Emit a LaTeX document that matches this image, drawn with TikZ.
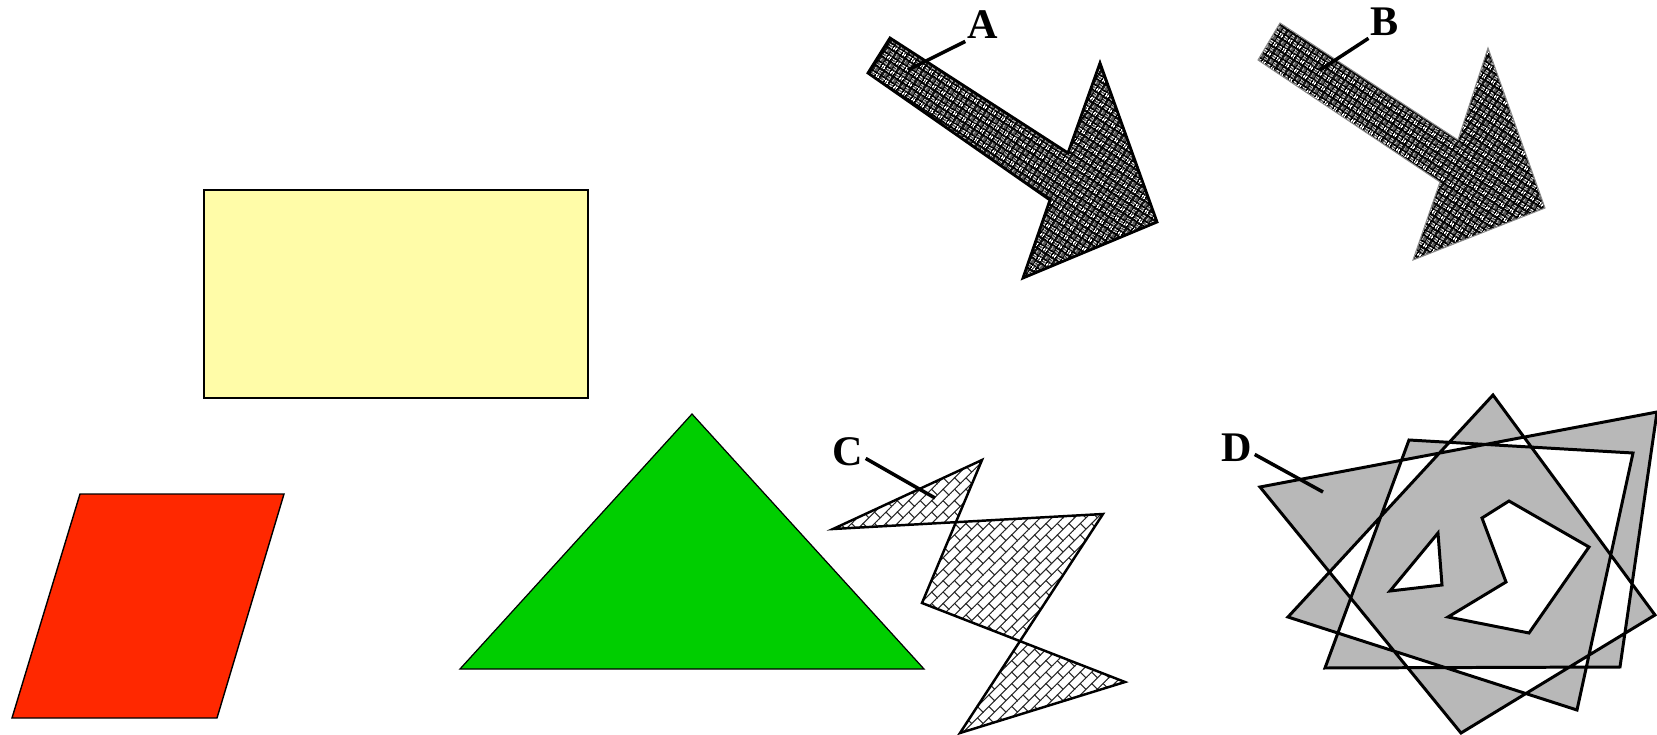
\documentclass[tikz,border=0pt]{standalone}
\usepackage{fontspec}
\setmainfont{Liberation Serif}
\usepackage{xcolor}
\usetikzlibrary{patterns, patterns.meta}

\definecolor{rectYellow}{RGB}{255,252,168}
\definecolor{paraRed}{RGB}{255,40,0}
\definecolor{triGreen}{RGB}{0,206,0}

\pgfdeclarepattern{
    name=weaveFill,
    bottom left={\pgfpoint{0pt}{0pt}},
    top right={\pgfpoint{3pt}{3pt}},
    tile size={\pgfpoint{3pt}{3pt}},
    tile transformation={\pgftransformrotate{-33}},
    code={
        \pgfsetlinewidth{0.3pt}
        \pgfpathmoveto{\pgfpoint{0.2pt}{0.45pt}}\pgfpathlineto{\pgfpoint{1.3pt}{0.45pt}}
        \pgfpathmoveto{\pgfpoint{0.2pt}{1.05pt}}\pgfpathlineto{\pgfpoint{1.3pt}{1.05pt}}
        \pgfpathmoveto{\pgfpoint{1.95pt}{0.2pt}}\pgfpathlineto{\pgfpoint{1.95pt}{1.3pt}}
        \pgfpathmoveto{\pgfpoint{2.55pt}{0.2pt}}\pgfpathlineto{\pgfpoint{2.55pt}{1.3pt}}
        \pgfpathmoveto{\pgfpoint{0.45pt}{1.7pt}}\pgfpathlineto{\pgfpoint{0.45pt}{2.8pt}}
        \pgfpathmoveto{\pgfpoint{1.05pt}{1.7pt}}\pgfpathlineto{\pgfpoint{1.05pt}{2.8pt}}
        \pgfpathmoveto{\pgfpoint{1.7pt}{1.95pt}}\pgfpathlineto{\pgfpoint{2.8pt}{1.95pt}}
        \pgfpathmoveto{\pgfpoint{1.7pt}{2.55pt}}\pgfpathlineto{\pgfpoint{2.8pt}{2.55pt}}
        \pgfusepath{stroke}
    }
}
\pgfdeclarepattern{
    name=brickFill,
    bottom left={\pgfpoint{-0.2pt}{-0.2pt}},
    top right={\pgfpoint{4.8pt}{4.8pt}},
    tile size={\pgfpoint{4.6pt}{4.6pt}},
    tile transformation={\pgftransformrotate{45}},
    code={
        \pgfsetlinewidth{0.3pt}
        \pgfpathmoveto{\pgfpoint{-0.2pt}{0pt}}\pgfpathlineto{\pgfpoint{4.8pt}{0pt}}
        \pgfpathmoveto{\pgfpoint{-0.2pt}{2.3pt}}\pgfpathlineto{\pgfpoint{4.8pt}{2.3pt}}
        \pgfpathmoveto{\pgfpoint{0pt}{0pt}}\pgfpathlineto{\pgfpoint{0pt}{2.3pt}}
        \pgfpathmoveto{\pgfpoint{2.3pt}{2.3pt}}\pgfpathlineto{\pgfpoint{2.3pt}{4.6pt}}
        \pgfusepath{stroke}
    }
}

\tikzset{
    flatShape/.style={
        draw=black, line width=0.4pt
    },
    weaveShape/.style={
        preaction={fill=black}, pattern=weaveFill, pattern color=white
    },
    brickShape/.style={
        draw=black, line width=0.7pt, pattern=brickFill, pattern color=black!85
    },
    dotShape/.style={
        draw=black, fill=black!28, line width=0.85pt, even odd rule
    },
    markLabel/.style={
        font=\fontsize{12}{12}\selectfont\bfseries, inner sep=0.5pt
    },
    markLeader/.style={
        draw=black, line width=1pt
    }
}

\begin{document}
\begin{tikzpicture}[x=0.1mm, y=-0.1mm]
    \useasboundingbox (0,0) rectangle (1657,735);

    % ── FLAT COLOURED SHAPES
    \path[flatShape, fill=rectYellow, line width=0.6pt] (204,190) rectangle (588,398);
    \path[flatShape, fill=paraRed] (80,494) -- (284,494) -- (217,718) -- (12,718) -- cycle;
    \path[flatShape, fill=triGreen, line width=0.35pt] (692,414) -- (924,669) -- (460,669) -- cycle;

    % ── ARROW A (outlined) AND ARROW B
    \path[weaveShape, draw=black, line width=0.8pt]
        (890,38) -- (1068,153) -- (1100,63) -- (1157,222) -- (1023,278) -- (1050,200) -- (868,73) -- cycle;
    \path[weaveShape, draw=black!45, line width=0.3pt]
        (1280,23) -- (1458,140) -- (1488,48) -- (1545,208) -- (1413,260) -- (1440,182) -- (1258,60) -- cycle;

    % ── ZIGZAG C
    \path[brickShape]
        (982,460) -- (833,529) -- (1103,514) -- (960,733) -- (1125,682) -- (922,603) -- cycle;

    % ── STAR D with two holes
    \path[dotShape]
        (1260,487) -- (1657,412) -- (1620,667) -- (1325,668) -- (1409,440) -- (1633,453)
        -- (1577,710) -- (1288,617) -- (1493,395) -- (1655,615) -- (1461,733) -- cycle
        (1438,533) -- (1442,585) -- (1390,591) -- cycle
        (1509,501) -- (1589,547) -- (1529,633) -- (1448,617) -- (1506,582) -- (1482,518) -- cycle;

    % ── LABELS
    \node[markLabel] (labA) at (983,25) {A};
    \node[markLabel] (labB) at (1385,22) {B};
    \node[markLabel] (labC) at (848,452) {C};
    \node[markLabel] (labD) at (1237,448) {D};

    \coordinate (tipA) at (908,70);
    \coordinate (tipB) at (1320,70);
    \coordinate (tipC) at (935,498);
    \coordinate (tipD) at (1323,492);

    \draw[markLeader] (labA.south west) -- (tipA);
    \draw[markLeader] (labB.south west) -- (tipB);
    \draw[markLeader] (labC.-20) -- (tipC);
    \draw[markLeader] (labD.-20) -- (tipD);
\end{tikzpicture}
\end{document}
